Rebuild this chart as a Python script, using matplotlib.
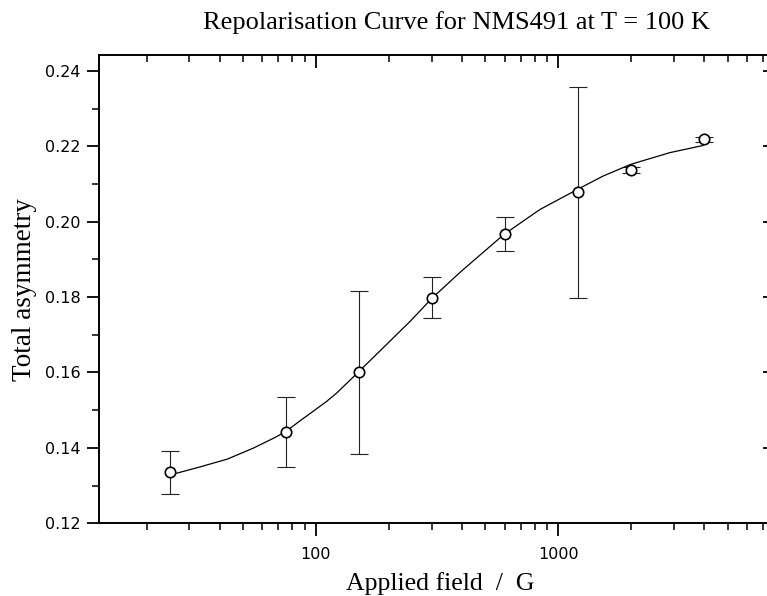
import matplotlib
matplotlib.use("Agg")
import matplotlib.pyplot as plt
from matplotlib.ticker import LogLocator, FixedLocator, FuncFormatter, NullFormatter

# measured points
field = [25, 75, 150, 300, 600, 1200, 2000, 4000]
asym = [0.1335, 0.1443, 0.1600, 0.1798, 0.1967, 0.2078, 0.2138, 0.2218]
asym_err = [0.0058, 0.0093, 0.0216, 0.0054, 0.0045, 0.0280, 0.0008, 0.0007]

# fitted curve
curve_field = [25, 33, 43, 55, 67, 75, 86, 95, 111, 122, 149, 189, 244, 300,
               386, 405, 596, 838, 1194, 1529, 1988, 2879, 3950]
curve_asym = [0.1328, 0.1349, 0.1370, 0.1399, 0.1426, 0.1443, 0.1472, 0.1492,
              0.1524, 0.1546, 0.1600, 0.1665, 0.1735, 0.1796, 0.1861, 0.1873,
              0.1966, 0.2032, 0.2085, 0.2121, 0.2152, 0.2183, 0.2202]

yticks = [0.12, 0.14, 0.16, 0.18, 0.20, 0.22, 0.24]
yminor = [0.13, 0.15, 0.17, 0.19, 0.21, 0.23]

serif = "Liberation Serif"

fig = plt.figure(figsize=(7.67, 5.96), dpi=100)
ax = fig.add_axes([0.1287, 0.122, 0.875, 0.7857])

ax.plot(curve_field, curve_asym, color="black", lw=0.9, zorder=2)
ax.errorbar(field, asym, yerr=asym_err, fmt="none", ecolor="#222222",
            elinewidth=0.8, capsize=6.5, capthick=0.8, zorder=1)
ax.plot(field, asym, "o", ms=7.5, mfc="white", mec="black", mew=1.2, zorder=3)

ax.set_xscale("log")
ax.set_xlim(12.7, 7450)
ax.set_ylim(0.12, 0.2442)

ax.xaxis.set_major_locator(LogLocator(base=10))
ax.xaxis.set_minor_locator(LogLocator(base=10, subs=range(2, 10)))
ax.xaxis.set_major_formatter(FuncFormatter(lambda v, p: "%d" % v))
ax.xaxis.set_minor_formatter(NullFormatter())
ax.yaxis.set_major_locator(FixedLocator(yticks))
ax.yaxis.set_minor_locator(FixedLocator(yminor))
ax.yaxis.set_major_formatter(FuncFormatter(lambda v, p: "%.2f" % v))

ax.tick_params(which="major", direction="out", length=9, width=1.3,
               labelsize=11.5, pad=4)
ax.tick_params(which="minor", direction="out", length=5, width=1.1)
ax.tick_params(axis="x", which="major", pad=8)

for s in ["top", "right"]:
    ax.spines[s].set_visible(False)
for s in ["bottom", "left"]:
    ax.spines[s].set_linewidth(1.4)

# top and right axes with inward ticks
top = ax.secondary_xaxis("top")
top.xaxis.set_major_locator(LogLocator(base=10))
top.xaxis.set_minor_locator(LogLocator(base=10, subs=range(2, 10)))
top.xaxis.set_major_formatter(NullFormatter())
top.xaxis.set_minor_formatter(NullFormatter())
top.tick_params(which="major", direction="in", length=9, width=1.3)
top.tick_params(which="minor", direction="in", length=5, width=1.1)
top.spines["top"].set_linewidth(1.4)

right = ax.secondary_yaxis("right")
right.yaxis.set_major_locator(FixedLocator(yticks))
right.yaxis.set_minor_locator(FixedLocator(yminor))
right.yaxis.set_major_formatter(NullFormatter())
right.tick_params(which="major", direction="in", length=5, width=1.3)
right.tick_params(which="minor", direction="in", length=2, width=1.1)

ax.set_xlabel("Applied field  /  G", family=serif, fontsize=18.5, labelpad=7)
ax.xaxis.label.set_x(0.509)
ax.set_ylabel("Total asymmetry", family=serif, fontsize=19.5, labelpad=6)
fig.text(0.595, 0.963, "Repolarisation Curve for NMS491 at T = 100 K",
         family=serif, fontsize=19, ha="center", va="center")

fig.savefig("out.png", dpi=100)
